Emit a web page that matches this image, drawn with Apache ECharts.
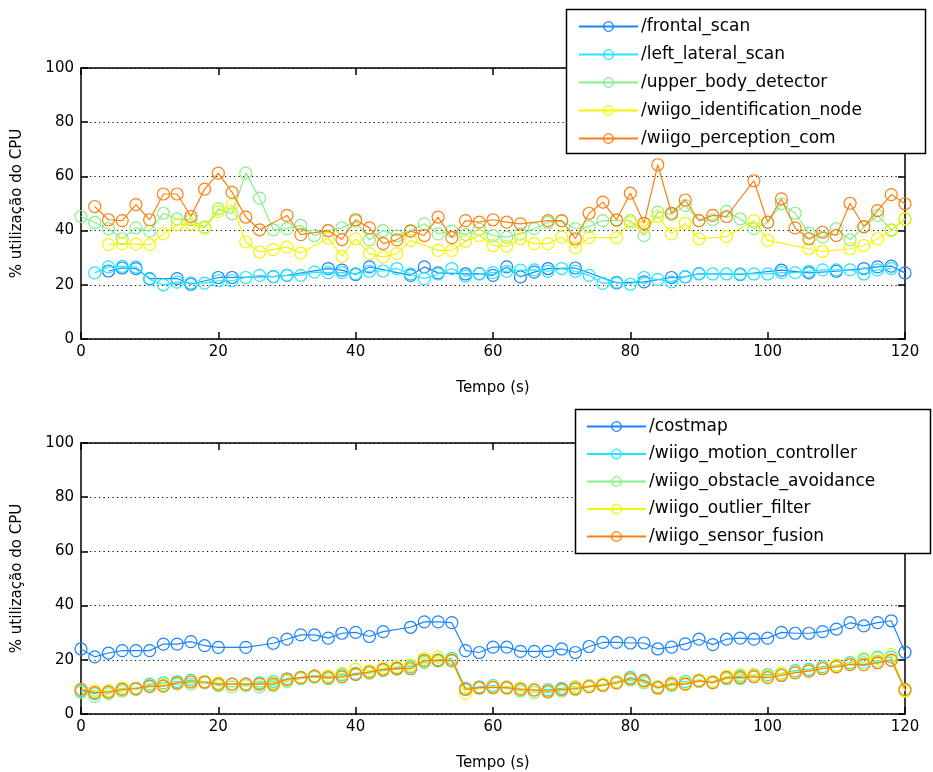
<!DOCTYPE html>
<html>
<head>
<meta charset="utf-8">
<script src="https://cdn.jsdelivr.net/npm/echarts@6/dist/echarts.min.js"></script>
<style>
html,body{margin:0;padding:0;background:#fff;}
#chart{width:933px;height:772px;}
</style>
</head>
<body>
<div id="chart"></div>
<script>
// ---------- data: top plot ----------
var xTicks = [0, 20, 40, 60, 80, 100, 120];
var yTicks = [0, 20, 40, 60, 80, 100];

var frontalX = [4,6,8,10,14,16,20,22,28,30,36,38,40,42,48,50,52,56,58,60,62,64,66,68,72,78,82,86,88,90,96,102,106,110,114,116,118,120];
var frontalY = [25.1,26.2,26.0,22.3,22.3,20.2,22.7,22.7,23.0,23.5,26.0,25.4,23.8,26.6,23.5,26.6,24.4,24.0,24.1,23.5,26.6,22.9,24.7,26.0,26.2,20.7,21.1,22.7,22.9,24.1,23.8,25.4,24.4,25.0,26.0,26.6,26.9,24.4];

var lateralX = [2,4,6,8,10,12,14,16,18,20,22,24,26,28,30,32,34,36,38,40,42,44,46,48,50,52,54,56,58,60,62,64,66,68,70,72,74,76,78,80,82,84,86,88,90,92,94,96,98,100,102,104,106,108,110,112,114,116,118];
var lateralY = [24.4,26.6,26.8,26.6,22.0,20.0,21.0,20.7,20.6,21.5,21.5,22.7,23.5,23.0,23.5,23.5,24.7,24.5,24.5,24.1,25.0,25.1,26.0,24.0,22.3,24.0,26.0,23.2,24.0,24.5,25.0,25.4,25.5,25.0,26.0,25.0,23.5,20.5,21.0,20.2,22.7,22.0,21.1,23.0,24.0,24.0,24.0,24.0,24.0,24.0,24.5,24.5,25.0,25.5,25.5,25.5,24.0,25.5,26.0];

var upperX = [0,2,4,6,8,10,12,14,16,18,20,22,24,26,28,30,32,34,36,38,40,42,44,46,48,50,52,54,56,58,60,62,64,66,68,70,72,74,76,78,80,82,84,86,88,90,92,94,96,98,100,102,104,106,108,110,112,114,116,118,120];
var upperY = [45.2,43.0,40.7,37.0,41.0,39.8,46.4,44.3,44.0,41.3,48.0,46.2,61.2,52.0,40.3,40.7,41.9,38.2,40.0,41.0,43.5,36.6,40.0,38.0,40.0,42.5,38.8,39.8,38.6,40.5,38.2,37.6,38.8,40.7,43.0,43.5,40.7,41.5,43.7,43.7,43.7,38.2,46.8,46.0,49.2,43.7,44.0,47.1,44.3,40.7,43.0,49.9,46.4,39.1,37.6,40.7,36.6,41.3,45.6,40.3,44.3];

var identX = [4,6,8,10,12,14,16,18,20,22,24,26,28,30,32,36,38,40,42,44,46,48,52,54,56,58,60,62,64,66,68,70,72,74,78,80,82,84,86,88,90,94,98,100,106,108,112,114,116,118,120];
var identY = [34.8,35.2,35.0,34.8,38.8,42.1,42.5,40.9,47.0,49.6,35.8,32.1,33.0,33.9,31.7,37.2,30.5,37.0,31.5,30.3,31.5,36.4,32.7,32.7,36.0,38.2,34.5,34.2,37.0,35.2,35.2,37.6,33.6,37.4,37.4,43.1,41.3,45.3,38.8,42.7,37.0,37.8,43.7,36.4,33.3,32.3,33.3,34.5,37.0,40.0,44.3];

var percX = [2,4,6,8,10,12,14,16,18,20,22,24,26,30,32,36,38,40,42,44,46,48,50,52,54,56,58,60,62,64,68,70,72,74,76,78,80,82,84,86,88,90,92,94,98,100,102,104,106,108,110,112,114,116,118,120];
var percY = [48.9,44.0,43.7,49.6,44.0,53.5,53.5,45.2,55.3,61.2,54.1,45.0,40.3,45.6,38.5,40.0,36.7,44.0,41.0,35.2,36.6,39.8,38.2,45.0,37.4,43.7,43.1,44.0,43.1,42.5,43.7,43.7,37.0,46.4,50.5,44.0,53.8,42.7,64.3,46.4,51.3,43.7,45.6,45.2,58.4,43.1,51.7,41.0,37.0,39.4,38.2,50.1,41.5,47.4,53.3,49.9];

// ---------- data: bottom plot ----------
var costmapX = [0,2,4,6,8,10,12,14,16,18,20,24,28,30,32,34,36,38,40,42,44,48,50,52,54,56,58,60,62,64,66,68,70,72,74,76,78,80,82,84,86,88,90,92,94,96,98,100,102,104,106,108,110,112,114,116,118,120];
var costmapY = [24.0,21.1,22.5,23.4,23.4,23.4,25.8,25.8,26.7,25.2,24.6,24.6,26.1,27.6,29.2,29.2,28.0,29.8,30.1,28.6,30.4,32.0,34.0,34.0,33.7,23.4,22.7,24.7,24.7,23.1,23.1,23.1,24.0,22.7,24.9,26.4,26.4,26.2,26.2,24.0,24.7,25.9,27.6,25.6,27.6,28.0,27.6,28.0,30.1,29.8,29.8,30.4,31.3,33.7,32.5,33.7,34.4,22.8];

var fullX = [0,2,4,6,8,10,12,14,16,18,20,22,24,26,28,30,32,34,36,38,40,42,44,46,48,50,52,54,56,58,60,62,64,66,68,70,72,74,76,78,80,82,84,86,88,90,92,94,96,98,100,102,104,106,108,110,112,114,116,118,120];
var motionY = [8.5,7.5,8.5,9.5,9.5,11,11.5,12,12.5,12,11,11,11,11.5,12,13,13.5,14,14,14.5,15,15.5,16.5,17,17.5,19.5,20,20.5,9.5,10,10.5,10,9.5,9,9,9.5,10,10.5,11,12,13.5,12.5,10,11.5,12,12.5,12,13.5,14,14.5,14.5,15,16,16.5,17.5,18,19,20,21,21,9];
var obstacleY = [8,6.5,7.5,8.5,9,10,10.5,11,11,11.5,10.5,10,10.5,10,10.5,12,13,13.5,13,14,14.5,15,16,16.5,17,19,19.5,19.5,9,9.5,10,9.5,8.5,8,8,8.5,9,10,10.5,11.5,12.5,11.5,9.5,10.5,11,12,11.5,13,13,14,14,14.5,15.5,16,17,17.5,18.5,19,19.5,20,8.5];
var outlierY = [9,8.5,8.5,9.5,9.5,10.5,11,11.5,12,12,11.5,11,11,11,11.5,12.5,13.5,14,14,15,16.5,16,17,17.5,18,20.5,21,20,7.6,9.5,10,10,9.5,9,8.5,9,10,10.5,11,12,13,12,10,11.5,11.5,12.5,12,14,14.5,14.5,14,15,15.5,16,17,18,18.5,20.5,20.5,22,8.5];
var fusionY = [9.1,7.9,8.1,9.1,9.4,10.3,10.3,11.5,11.8,11.8,11,11,11,11,11,12.8,13.4,14,13.4,13.7,14.6,15.5,16.4,16.8,16.7,19.8,19.8,19.8,9.1,9.7,9.7,9.7,9.1,8.8,8.4,9.1,9.4,10.1,10.6,11.5,13,12.2,9.7,11,11,12.2,11.6,13.4,13.4,13.7,13.4,14.2,15.2,15.8,16.7,17.4,18.2,18.2,18.9,19.8,9.1];

var topNames = ['/frontal_scan', '/left_lateral_scan', '/upper_body_detector', '/wiigo_identification_node', '/wiigo_perception_com'];
var bottomNames = ['/costmap', '/wiigo_motion_controller', '/wiigo_obstacle_avoidance', '/wiigo_outlier_filter', '/wiigo_sensor_fusion'];
var colors = ['#1a84ff', '#22e6ff', '#88f088', '#f5f500', '#ff8010'];

function zip(xs, ys) { return xs.map(function (x, i) { return [x, ys[i]]; }); }

var topData = [zip(frontalX, frontalY), zip(lateralX, lateralY), zip(upperX, upperY), zip(identX, identY), zip(percX, percY)];
var bottomData = [zip(costmapX, costmapY), zip(fullX, motionY), zip(fullX, obstacleY), zip(fullX, outlierY), zip(fullX, fusionY)];

var FONT = 'DejaVu Sans, Liberation Sans, sans-serif';
var grids = [
  {left: 81, top: 68, width: 824, height: 271},
  {left: 81, top: 443, width: 824, height: 271}
];

function xMain(gi) {
  return {
    type: 'value', gridIndex: gi, min: 0, max: 120, interval: 20, position: 'bottom',
    axisLine: {show: true, onZero: false, lineStyle: {color: '#000', width: 1.5}},
    axisTick: {show: true, inside: true, length: 7, lineStyle: {color: '#000', width: 1.5}},
    axisLabel: {color: '#000', fontFamily: FONT, fontSize: 15, margin: 6},
    splitLine: {show: false},
    name: 'Tempo (s)', nameLocation: 'middle', nameGap: 42,
    nameTextStyle: {color: '#000', fontFamily: FONT, fontSize: 15}
  };
}
function xTop(gi) {
  return {
    type: 'value', gridIndex: gi, min: 0, max: 120, interval: 20, position: 'top',
    axisLine: {show: true, onZero: false, lineStyle: {color: '#000', width: 1.5}},
    axisTick: {show: true, inside: true, length: 7, lineStyle: {color: '#000', width: 1.5}},
    axisLabel: {show: false}, splitLine: {show: false}
  };
}
function yMain(gi) {
  return {
    type: 'value', gridIndex: gi, min: 0, max: 100, interval: 20, position: 'left',
    axisLine: {show: true, onZero: false, lineStyle: {color: '#000', width: 1.5}},
    axisTick: {show: true, inside: true, length: 7, lineStyle: {color: '#000', width: 1.5}},
    axisLabel: {color: '#000', fontFamily: FONT, fontSize: 15, margin: 7},
    splitLine: {show: true, lineStyle: {color: '#000', width: 1.2, type: [1.2, 3.3]}},
    name: '% utilização do CPU', nameLocation: 'middle', nameGap: 56,
    nameTextStyle: {color: '#000', fontFamily: FONT, fontSize: 15}
  };
}
function yRight(gi) {
  return {
    type: 'value', gridIndex: gi, min: 0, max: 100, interval: 20, position: 'right',
    axisLine: {show: true, onZero: false, lineStyle: {color: '#000', width: 1.5}},
    axisTick: {show: true, inside: true, length: 7, lineStyle: {color: '#000', width: 1.5}},
    axisLabel: {show: false}, splitLine: {show: false}
  };
}

var series = [];
function addSeries(names, data, xi, yi) {
  names.forEach(function (n, i) {
    series.push({
      name: n, type: 'line', xAxisIndex: xi, yAxisIndex: yi, data: data[i],
      symbol: 'circle', symbolSize: 12, showSymbol: true,
      lineStyle: {color: colors[i], width: 1.2},
      itemStyle: {color: 'rgba(255,255,255,0)', borderColor: colors[i], borderWidth: 1.2},
      emphasis: {disabled: true}, z: 2 + i
    });
  });
}
addSeries(topNames, topData, 0, 0);
addSeries(bottomNames, bottomData, 2, 2);

function legend(names, left, top, gap) {
  return {
    data: names.map(function (n, i) {
      return {name: n, itemStyle: {color: 'rgba(255,255,255,0)', borderColor: colors[i], borderWidth: 1.3}};
    }),
    orient: 'vertical', left: left, top: top,
    itemWidth: 59, itemHeight: 12, itemGap: gap, padding: 0,
    selectedMode: false, z: 20,
    textStyle: {color: '#000', fontFamily: FONT, fontSize: 17, lineHeight: 16, padding: [0, 0, 0, -2]}
  };
}

var option = {
  animation: false,
  backgroundColor: '#fff',
  grid: grids,
  xAxis: [xMain(0), xTop(0), xMain(1), xTop(1)],
  yAxis: [yMain(0), yRight(0), yMain(1), yRight(1)],
  legend: [legend(topNames, 578, 18, 11), legend(bottomNames, 586, 418, 10.5)],
  graphic: [
    {type: 'rect', z: 15, shape: {x: 566.5, y: 9.5, width: 359, height: 144}, style: {fill: '#fff', stroke: '#000', lineWidth: 1.5}},
    {type: 'rect', z: 15, shape: {x: 575.5, y: 409.5, width: 355, height: 144}, style: {fill: '#fff', stroke: '#000', lineWidth: 1.5}}
  ],
  series: series
};

var chart = echarts.init(document.getElementById('chart'), null, {renderer: 'canvas'});
chart.setOption(option);
</script>
</body>
</html>
